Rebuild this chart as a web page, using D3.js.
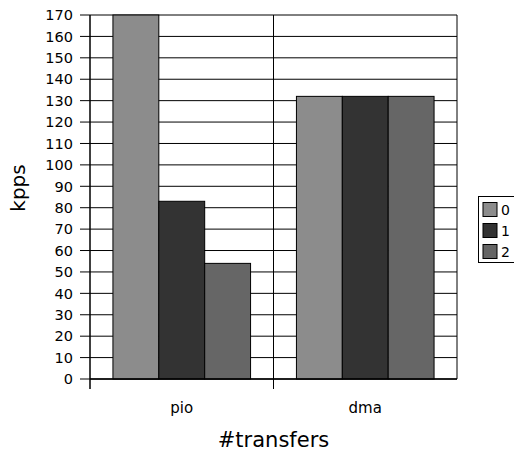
<!DOCTYPE html>
<html>
<head>
<meta charset="utf-8">
<script src="https://cdn.jsdelivr.net/npm/d3@7"></script>
<style>
  body { margin: 0; background: #fff; }
  text { font-family: "DejaVu Sans", sans-serif; fill: #000; }
</style>
</head>
<body>
<div id="chart"></div>
<script>
const categories = ["pio", "dma"];
const seriesNames = ["0", "1", "2"];
const seriesValues = [
  [170, 132],
  [83, 132],
  [54, 132]
];
const seriesColors = ["#8c8c8c", "#333333", "#666666"];
const yTicks = d3.range(0, 171, 10);

const width = 514, height = 453;
const margin = { top: 15, right: 57, bottom: 74, left: 90 };

const svg = d3.select("#chart")
  .append("svg")
  .attr("width", width)
  .attr("height", height);

const x = d3.scaleBand()
  .domain(categories)
  .range([margin.left, width - margin.right]);

const xInner = d3.scaleBand()
  .domain(seriesNames)
  .range([0, x.bandwidth()])
  .paddingOuter(0.5);

const y = d3.scaleLinear()
  .domain([0, 170])
  .range([height - margin.bottom, margin.top]);

// grid lines
svg.append("g")
  .selectAll("line")
  .data(yTicks)
  .join("line")
  .attr("x1", margin.left - 10)
  .attr("x2", width - margin.right)
  .attr("y1", d => y(d))
  .attr("y2", d => y(d))
  .attr("stroke", "#000")
  .attr("stroke-width", 1);

// category separators
svg.append("g")
  .selectAll("line")
  .data(categories.concat(["end"]))
  .join("line")
  .attr("x1", (d, i) => i < categories.length ? x(d) : x.range()[1])
  .attr("x2", (d, i) => i < categories.length ? x(d) : x.range()[1])
  .attr("y1", margin.top)
  .attr("y2", (d, i) => i < categories.length ? y(0) + 10 : y(0))
  .attr("stroke", "#000")
  .attr("stroke-width", (d, i) => i === 0 ? 1.5 : 1);

// bars
const groups = svg.append("g")
  .selectAll("g")
  .data(seriesNames)
  .join("g")
  .attr("fill", (d, i) => seriesColors[i]);

groups.selectAll("rect")
  .data((s, si) => categories.map((c, ci) => ({ c, s, v: seriesValues[si][ci] })))
  .join("rect")
  .attr("x", d => x(d.c) + xInner(d.s))
  .attr("width", xInner.bandwidth())
  .attr("y", d => y(d.v))
  .attr("height", d => y(0) - y(d.v))
  .attr("stroke", "#000")
  .attr("stroke-width", 1);

// bottom axis line
svg.append("line")
  .attr("x1", margin.left).attr("x2", width - margin.right)
  .attr("y1", y(0)).attr("y2", y(0))
  .attr("stroke", "#000").attr("stroke-width", 1.5);

// y tick labels
svg.append("g")
  .selectAll("text")
  .data(yTicks)
  .join("text")
  .attr("x", margin.left - 17)
  .attr("y", d => y(d))
  .attr("dy", "0.36em")
  .attr("text-anchor", "end")
  .style("font-size", "14.5px")
  .text(d => d);

// x category labels
svg.append("g")
  .selectAll("text")
  .data(categories)
  .join("text")
  .attr("x", d => x(d) + x.bandwidth() / 2)
  .attr("y", 413)
  .attr("text-anchor", "middle")
  .style("font-size", "15px")
  .text(d => d);

// axis titles
svg.append("text")
  .attr("x", (margin.left + width - margin.right) / 2)
  .attr("y", 447)
  .attr("text-anchor", "middle")
  .style("font-size", "21px")
  .text("#transfers");

svg.append("text")
  .attr("transform", "translate(25,188) rotate(-90)")
  .attr("text-anchor", "middle")
  .style("font-size", "20px")
  .text("kpps");

// legend
const legend = svg.append("g");
legend.append("rect")
  .attr("x", 478.5).attr("y", 196.5)
  .attr("width", 40).attr("height", 66)
  .attr("fill", "#fff").attr("stroke", "#000");

const items = legend.selectAll("g")
  .data(seriesNames)
  .join("g")
  .attr("transform", (d, i) => `translate(483,${202.5 + i * 21})`);
items.append("rect")
  .attr("width", 14).attr("height", 14)
  .attr("fill", (d, i) => seriesColors[i])
  .attr("stroke", "#000");
items.append("text")
  .attr("x", 18).attr("y", 7)
  .attr("dy", "0.36em")
  .style("font-size", "14px")
  .text(d => d);
</script>
</body>
</html>
